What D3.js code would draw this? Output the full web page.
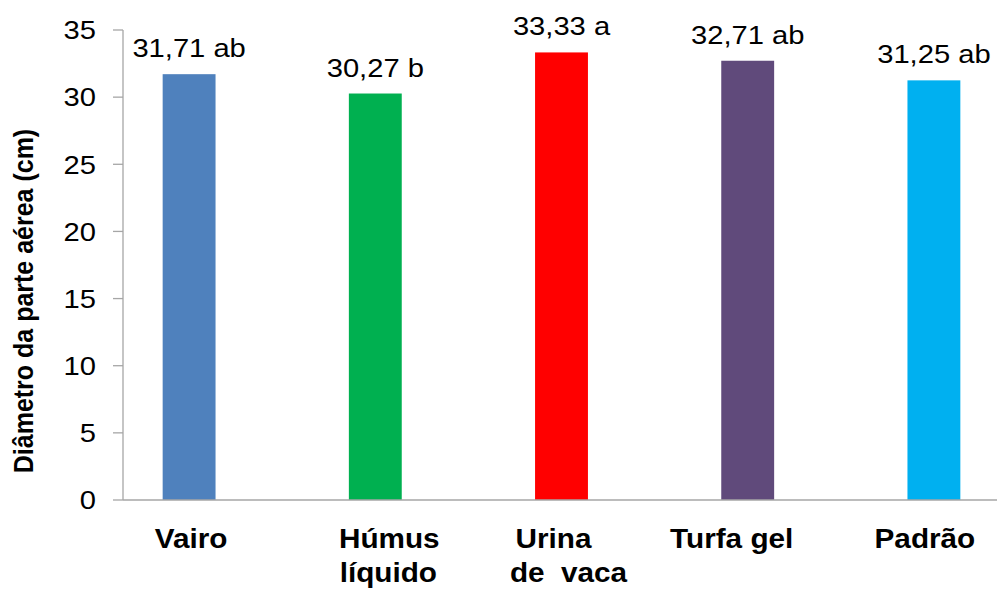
<!DOCTYPE html>
<html>
<head>
<meta charset="utf-8">
<script src="https://cdn.jsdelivr.net/npm/d3@7"></script>
<style>
  html, body { margin: 0; padding: 0; background: #fff; }
  svg { display: block; }
  text { font-family: "Liberation Sans", Arial, sans-serif; fill: #000; }
</style>
</head>
<body>
<svg id="chart" width="997" height="590"></svg>
<script>
// Treatments (each entry is the list of label lines)
const categories = ["Vairo", "Húmus líquido", "Urina de vaca", "Turfa gel", "Padrão"];
const categoryLines = [["Vairo"], ["Húmus", "líquido"], ["Urina", "de  vaca"], ["Turfa gel"], ["Padrão"]];
// Mean shoot diameter (cm)
const values = [31.71, 30.27, 33.33, 32.71, 31.25];
// Tukey grouping letters
const letters = ["ab", "b", "a", "ab", "ab"];
const yTicks = [0, 5, 10, 15, 20, 25, 30, 35];
const colors = ["#4F81BD", "#00B050", "#FF0000", "#604A7B", "#00B0F0"];
const yTitle = "Diâmetro da parte aérea (cm)";

// Per-line horizontal nudges of the category labels
const lineNudges = [[2], [14, 13], [-8, 7], [-16], [-9]];

const svg = d3.select("#chart");
const axisLeft = 123, axisRight = 997, y0 = 500, yTop = 30;
const stretch = 1.1;

const x = d3.scaleBand()
  .domain(categories)
  .range([96, 1027])
  .paddingInner(0.716)
  .paddingOuter(0.358);

const y = d3.scaleLinear().domain([0, 35]).range([y0, yTop]);

const fmt = v => d3.format(".2f")(v).replace(".", ",");

// Bars
svg.append("g").selectAll("rect")
  .data(values)
  .join("rect")
  .attr("x", (d, i) => x(categories[i]))
  .attr("width", x.bandwidth())
  .attr("y", d => y(d))
  .attr("height", d => y(0) - y(d))
  .attr("fill", (d, i) => colors[i]);

// Axes lines and ticks
const axisColor = "#a6a6a6";
svg.append("line")
  .attr("x1", axisLeft).attr("x2", axisLeft)
  .attr("y1", y(35)).attr("y2", y(0))
  .attr("stroke", axisColor).attr("stroke-width", 1.3);
svg.append("line")
  .attr("x1", axisLeft).attr("x2", axisRight)
  .attr("y1", y(0)).attr("y2", y(0))
  .attr("stroke", axisColor).attr("stroke-width", 1.5);
svg.append("g").selectAll("line")
  .data(yTicks)
  .join("line")
  .attr("x1", axisLeft - 10).attr("x2", axisLeft)
  .attr("y1", d => y(d)).attr("y2", d => y(d))
  .attr("stroke", axisColor).attr("stroke-width", 1.3);

// Tick labels
svg.append("g").selectAll("text")
  .data(yTicks)
  .join("text")
  .attr("transform", d => `translate(96,${y(d)}) scale(${stretch},1)`)
  .attr("dy", "0.35em")
  .attr("text-anchor", "end")
  .style("font-size", "26.5px")
  .text(d => d);

// Value labels above bars
svg.append("g").selectAll("text")
  .data(values)
  .join("text")
  .attr("transform", (d, i) =>
    `translate(${x(categories[i]) + x.bandwidth() / 2},${y(d) - 17}) scale(${stretch},1)`)
  .attr("text-anchor", "middle")
  .style("font-size", "26.5px")
  .text((d, i) => `${fmt(d)} ${letters[i]}`);

// Category labels
const cat = svg.append("g");
categoryLines.forEach((lines, i) => {
  const cx = x(categories[i]) + x.bandwidth() / 2;
  lines.forEach((line, j) => {
    cat.append("text")
      .attr("transform", `translate(${cx + lineNudges[i][j]},${548 + j * 34}) scale(1.08,1)`)
      .attr("text-anchor", "middle")
      .style("font-size", "27.5px")
      .style("font-weight", "bold")
      .style("white-space", "pre")
      .attr("xml:space", "preserve")
      .text(line);
  });
});

// Y axis title
svg.append("text")
  .attr("transform", `translate(33,301) scale(${stretch},1) rotate(-90)`)
  .attr("text-anchor", "middle")
  .style("font-size", "25px")
  .style("font-weight", "bold")
  .text(yTitle);
</script>
</body>
</html>
